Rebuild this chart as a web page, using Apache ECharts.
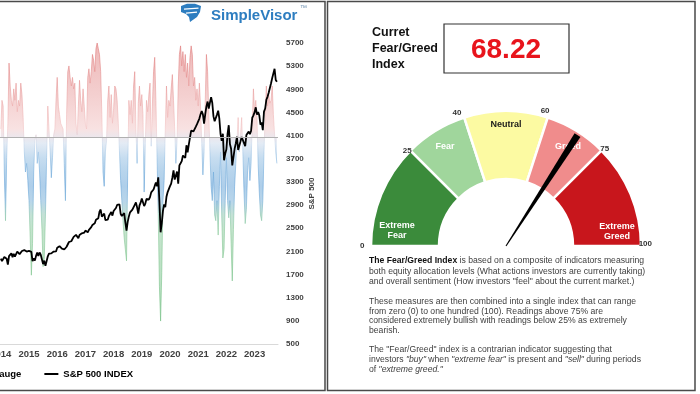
<!DOCTYPE html>
<html><head><meta charset="utf-8">
<script src="https://cdn.jsdelivr.net/npm/echarts@6/dist/echarts.min.js"></script>
<style>html,body{margin:0;padding:0;background:#fff}#c{width:700px;height:394px}</style>
</head><body><div id="c"></div>
<script>
// ---------- data ----------
const yearLabels = ['2014','2015','2016','2017','2018','2019','2020','2021','2022','2023'];
const priceTicks = [500,900,1300,1700,2100,2500,2900,3300,3700,4100,4500,4900,5300,5700];
const startYear = 2014.5;          // first observation (mid-2014), twice a month
const perYear = 24;
const spx = [
 1975,1931,1955,2003,1985,1972,1870,2018,2039,2067,2000,2059,
 2010,1995,2096,2104,2053,2068,2106,2086,2122,2107,2096,2063,2108,2104,2092,1930,1978,1940,2023,2079,2023,2080,2043,2044,
 1880,1940,1850,1932,2015,2060,2081,2065,2047,2097,2072,2099,2162,2174,2190,2171,2147,2168,2133,2126,2180,2199,2262,2239,
 2275,2279,2351,2364,2385,2363,2329,2384,2402,2412,2433,2423,2459,2470,2430,2472,2500,2519,2557,2575,2585,2648,2676,2674,
 2786,2823,2700,2714,2752,2641,2656,2648,2712,2705,2779,2718,2798,2816,2850,2902,2904,2914,2750,2711,2730,2760,2600,2460,
 2610,2704,2775,2784,2822,2834,2905,2946,2860,2752,2890,2942,3014,2980,2884,2926,3007,2977,2996,3037,3120,3141,3169,3231,
 3289,3226,3380,2954,2430,2585,2800,2912,2864,3044,3125,3100,3226,3271,3373,3500,3340,3363,3480,3270,3585,3622,3660,3756,
 3768,3714,3934,3811,3943,3973,4185,4181,4173,4204,4255,4298,4327,4395,4468,4523,4468,4308,4471,4605,4688,4567,4669,4766,
 4663,4432,4348,4374,4463,4530,4392,4132,4008,4132,3675,3785,3863,4130,4280,3955,3873,3586,3583,3872,3965,4080,3852,3840,
 3999,4077,4090,3970,3916,4109,4137,4169,4124,4180,4409,4450,4505,4589,4464,4508,4450,4288,4327,4194,4514,4568,4719,4770,
 4840,4846,5005,5096,5117,5254,5061,5030
];
const fearGreed = [
 70,80,78,55,38,60,72,93,85,80,78,84,80,86,76,80,78,86,82,74,62,55,58,52,45,32,19,30,
 55,66,68,58,62,55,45,35,22,25,40,60,78,70,62,53,60,68,70,80,88,78,75,72,71,70,58,45,
 75,90,92,88,85,88,84,86,72,68,78,87,80,76,84,78,72,70,88,91,86,90,96,94,90,98,100,98,96,
 90,75,55,50,62,66,80,85,74,82,72,77,85,84,80,72,62,52,45,38,32,28,24,55,80,75,80,72,
 85,90,70,58,79,85,78,82,75,48,65,80,76,82,86,64,78,90,95,80,60,40,15,3,20,45,52,70,85,
 74,80,78,84,89,80,70,58,66,85,96,99,92,97,90,96,88,93,85,95,99,96,85,88,80,84,78,86,
 78,65,54,62,80,96,90,76,62,50,45,55,40,38,45,33,50,62,40,25,28,45,60,45,39,45,30,17,35,
 50,58,66,74,62,68,74,62,48,37,42,55,60,52,58,72,84,76,80,74,58,48,40,38,45,62,75,85,78,82,79,80,85,75,68,62,58
];
const gaugeBaseline = 67;
const currentReading = 68.22;
const zoneNames = ['Extreme\nFear','Fear','Neutral','Greed','Extreme\nGreed'];
const zoneBounds = [0,25,40,60,75,100];
const gaugeTicks = [0,25,40,60,75,100];

// ---------- styles ----------
const FONT = 'Liberation Sans, Arial, sans-serif';
const zoneColors = ['#3b8b3b','#a0d69c','#fcfaa2','#f08c8c','#c8161c'];
const zoneTextColors = ['#fff','#fff','#1a1a1a','#fff','#fff'];
const zoneLabelPos = [[397,231],[445,147],[506,125],[568,147],[617,232]];
const tickPad = { 0: [0,0,0,0], 25: [16,16,0,0], 40: [2,8,0,0], 60: [0,12,6,0], 75: [12,0,0,6], 100: [0,0,4,14] };
const GX = 506, GY = 246;

const t = i => startYear + i / perYear;
const spxData = spx.map((v, i) => [t(i), v]);
const fgData = fearGreed.map((v, i) => [t(i), v]);

const zoneData = zoneNames.map((n, k) => ({
  name: n, value: zoneBounds[k + 1] - zoneBounds[k],
  itemStyle: { color: zoneColors[k] },
  label: { color: zoneTextColors[k] }
}));
zoneData.push({ name: '', value: 100, itemStyle: { color: 'rgba(0,0,0,0)', borderWidth: 0 }, label: { show: false } });

const tickRich = {};
gaugeTicks.forEach(v => { tickRich['t' + v] = { padding: tickPad[v], fontSize: 8, fontWeight: 'bold', color: '#333', fontFamily: FONT }; });

const chart = echarts.init(document.getElementById('c'), null, { renderer: 'canvas' });
chart.setOption({
  animation: false,
  textStyle: { fontFamily: FONT },
  grid: { left: 0, right: 422, top: 43, bottom: 50, outerBoundsMode: 'none', containLabel: false },
  legend: {
    left: -85, top: 364, itemGap: 23, itemWidth: 14, itemHeight: 2, selectedMode: false,
    textStyle: { fontSize: 9.5, fontWeight: 'bold', color: '#000', fontFamily: FONT },
    data: [{ name: 'Fear/Greed Gauge', icon: 'rect', itemStyle: { color: '#7fb0d8' } },
           { name: 'S&P 500 INDEX', icon: 'rect', itemStyle: { color: '#000' } }]
  },
  visualMap: {
    type: 'continuous', show: false, seriesIndex: 0, dimension: 1, min: 0, max: 100,
    inRange: { color: ['#6cbb7c','#6fbd80','#72bf83','#76c187','#7ac38b','#7fc58f','#84c794','#88c99a',
                       '#88c4ac','#72acd6','#5f9fd6','#70aada','#8fbce2','#c8d8eb','#f2c6c6','#efb5b5',
                       '#eba6a6','#e79898','#e48b8b','#e17f7f','#de7474'] }
  },
  xAxis: {
    type: 'value', min: 2014.4716, max: 2024.33,
    axisLine: { show: true, onZero: false, lineStyle: { color: '#d9d9d9', width: 1 } },
    axisTick: { show: false }, splitLine: { show: false },
    axisLabel: { customValues: yearLabels.map(y => +y + 0.5), formatter: v => String(Math.floor(v)),
      fontSize: 9.5, fontWeight: 'bold', color: '#404040', margin: 5, fontFamily: FONT,
      showMinLabel: true, showMaxLabel: true, hideOverlap: false }
  },
  yAxis: [{
    type: 'value', position: 'right', min: 500, max: 5700,
    axisLine: { show: false }, axisTick: { show: false }, splitLine: { show: false },
    axisLabel: { customValues: priceTicks, formatter: v => String(v), fontSize: 8, fontWeight: 'bold', color: '#404040', margin: 8, fontFamily: FONT },
    name: 'S&P 500', nameLocation: 'middle', nameRotate: 90, nameGap: 29,
    nameTextStyle: { fontSize: 8, fontWeight: 'bold', color: '#404040', fontFamily: FONT }
  }, {
    type: 'value', min: -5, max: 100, show: false, splitLine: { show: false }
  }],
  series: [{
    name: 'Fear/Greed Gauge', type: 'line', yAxisIndex: 1, data: fgData, symbol: 'none',
    lineStyle: { width: 0.7, opacity: 0.85 },
    areaStyle: { origin: gaugeBaseline, opacity: 0.5 },
    silent: true, z: 2,
    markLine: { silent: true, symbol: 'none', label: { show: false },
      lineStyle: { color: '#b0b0b0', width: 1, type: 'solid' }, data: [{ yAxis: gaugeBaseline }] }
  }, {
    name: 'S&P 500 INDEX', type: 'line', yAxisIndex: 0, data: spxData, symbol: 'none',
    lineStyle: { color: '#000', width: 1.8 }, itemStyle: { color: '#000' }, silent: true, z: 4
  }, {
    type: 'pie', center: [GX, GY], radius: [67, 135], startAngle: 180, clockwise: true,
    silent: true, avoidLabelOverlap: false, data: zoneData,
    itemStyle: { borderColor: '#fff', borderWidth: 2.5 },
    label: { show: true, position: 'inside', fontSize: 9, fontWeight: 'bold', lineHeight: 10, fontFamily: FONT,
      formatter: p => p.name },
    labelLine: { show: false },
    labelLayout: p => { const q = zoneLabelPos[p.dataIndex]; return q ? { x: q[0], y: q[1], align: 'center', verticalAlign: 'middle' } : {}; },
    emphasis: { disabled: true }
  }, {
    type: 'gauge', center: [GX, GY], radius: 135, startAngle: 180, endAngle: 0, min: 0, max: 100, splitNumber: 20,
    axisLine: { show: false, lineStyle: { width: 0 } },
    axisTick: { show: false }, splitLine: { show: false, length: 0, distance: 0 },
    axisLabel: { show: true, distance: -11, fontSize: 8, fontWeight: 'bold', color: '#333', fontFamily: FONT,
      align: 'center', verticalAlign: 'middle', rich: tickRich,
      formatter: v => gaugeTicks.indexOf(v) >= 0 ? '{t' + v + '|' + v + '}' : '' },
    pointer: { show: true, icon: 'path://M0,0 L8,0 L4.6,100 L3.4,100 Z', length: 132, width: 7, offsetCenter: [0, 0],
      itemStyle: { color: '#000' } },
    anchor: { show: false }, progress: { show: false }, title: { show: false }, detail: { show: false },
    silent: true, z: 5,
    data: [{ value: currentReading }]
  }],
  graphic: [
    { type: 'rect', silent: true, shape: { x: -5, y: 1.5, width: 330, height: 389 }, style: { fill: 'none', stroke: '#4a4a4a', lineWidth: 1.5 } },
    { type: 'rect', silent: true, shape: { x: 327.5, y: 1.5, width: 367.5, height: 389 }, style: { fill: 'none', stroke: '#4a4a4a', lineWidth: 1.5 } },
    { type: 'polygon', silent: true,
      shape: { points: [[181,6],[187,3.8],[195,3.8],[201,6],[200,12],[197,17],[190,22],[189,17],[186,14],[181,12]] },
      style: { fill: '#2d7dc0' } },
    { type: 'line', silent: true, shape: { x1: 184, y1: 9.2, x2: 198.5, y2: 8.2 }, style: { stroke: '#fff', lineWidth: 1.2 } },
    { type: 'line', silent: true, shape: { x1: 186, y1: 13.2, x2: 197, y2: 12.2 }, style: { stroke: '#fff', lineWidth: 1.2 } },
    { type: 'text', silent: true, style: { x: 211, y: 16, text: 'SimpleVisor', fill: '#2d7dc0', fontSize: 15, fontWeight: 'bold', fontFamily: FONT, verticalAlign: 'middle' } },
    { type: 'text', silent: true, style: { x: 300, y: 8, text: '™', fill: '#6b8fb0', fontSize: 7, fontFamily: FONT, verticalAlign: 'middle' } },
    { type: 'text', silent: true, style: { x: 372, y: 25, text: 'Curret\nFear/Greed\nIndex', fill: '#111', fontSize: 12.5, fontWeight: 'bold', lineHeight: 15.8, fontFamily: FONT } },
    { type: 'rect', silent: true, shape: { x: 444, y: 24, width: 125, height: 49 }, style: { fill: '#fff', stroke: '#333', lineWidth: 1.2 } },
    { type: 'text', silent: true, style: { x: 506, y: 50, text: currentReading.toFixed(2), fill: '#e8141c', fontSize: 28, fontWeight: 'bold', fontFamily: FONT, align: 'center', verticalAlign: 'middle' } },
    { type: 'text', silent: true, style: { x: 369, y: 255, fontSize: 8.65, lineHeight: 10.8, fill: '#404040', fontFamily: FONT,
      text: '{b|The Fear/Greed Index} is based on a composite of indicators measuring\nboth equity allocation levels (What actions investors are currently taking)\nand overall sentiment (How investors "feel" about the current market.)',
      rich: { b: { fontWeight: 'bold', fill: '#111', fontSize: 8.65, lineHeight: 10.8, fontFamily: FONT } } } },
    { type: 'text', silent: true, style: { x: 369, y: 297, fontSize: 8.65, lineHeight: 9.5, fill: '#404040', fontFamily: FONT,
      text: 'These measures are then combined into a single index that can range\nfrom zero (0) to one hundred (100). Readings above 75% are\nconsidered extremely bullish with readings below 25% as extremely\nbearish.' } },
    { type: 'text', silent: true, style: { x: 369, y: 345, fontSize: 8.65, lineHeight: 9.7, fill: '#404040', fontFamily: FONT,
      text: 'The "Fear/Greed" index is a contrarian indicator suggesting that\ninvestors {i|"buy"} when {i|"extreme fear"} is present and {i|"sell"} during periods\nof {i|"extreme greed."}',
      rich: { i: { fontStyle: 'italic', fill: '#404040', fontSize: 8.65, lineHeight: 9.7, fontFamily: FONT } } } }
  ]
});
</script>
</body></html>
